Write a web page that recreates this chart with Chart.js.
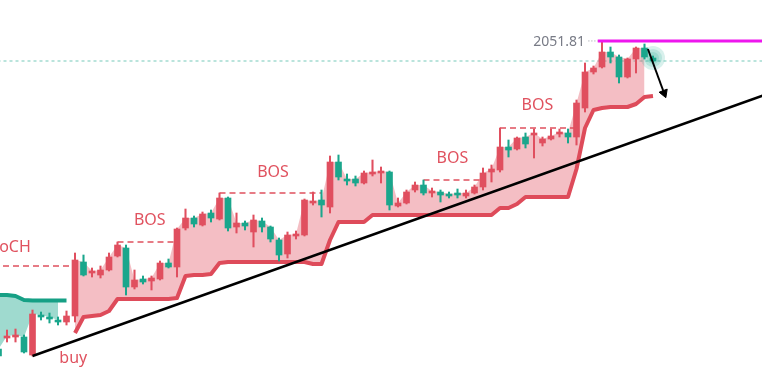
<!DOCTYPE html>
<html>
<head>
<meta charset="utf-8">
<script src="https://cdn.jsdelivr.net/npm/chart.js@4.4.1/dist/chart.umd.min.js"></script>
<style>
  html, body { margin: 0; padding: 0; background: #fff; }
  #wrap { width: 762px; height: 380px; }
</style>
</head>
<body>
<div id="wrap"><canvas id="chart" width="762" height="380"></canvas></div>
<script>
// candles, index of first one (partly off the left edge)
var firstBar = -1;
var opens = [
  1990.2, 1992.4, 1992.6, 1992.6, 1989.0, 1997.0, 1996.6, 1996.0, 1995.6, 1996.8,
  2007.6, 2005.4, 2005.0, 2006.0, 2008.8, 2010.4, 2002.6, 2004.2, 2003.8, 2004.2,
  2007.4, 2006.6, 2014.4, 2016.4, 2015.0, 2017.4, 2016.2, 2020.4, 2014.6, 2015.4,
  2013.6, 2015.8, 2014.6, 2012.0, 2009.2, 2012.8, 2013.0, 2019.4, 2020.0, 2018.6,
  2027.6, 2024.2, 2024.2, 2023.4, 2025.2, 2025.4, 2025.6, 2018.8, 2019.4, 2022.0,
  2023.0, 2021.4, 2021.6, 2021.2, 2021.4, 2020.8, 2021.4, 2022.6, 2025.6, 2026.0,
  2030.6, 2030.2, 2032.6, 2033.0, 2031.4, 2032.2, 2033.2, 2033.4, 2032.6, 2038.4,
  2045.6, 2046.6, 2049.6, 2048.6, 2044.6, 2048.2, 2050.4, 2048.4
];
var highs = [
  1990.6, 1994.0, 1994.2, 1993.0, 1998.0, 1997.6, 1997.4, 1996.6, 1997.8, 2009.4,
  2009.0, 2006.4, 2006.8, 2009.4, 2011.6, 2011.0, 2006.0, 2004.8, 2004.8, 2007.8,
  2008.2, 2014.4, 2018.2, 2016.8, 2017.6, 2018.0, 2021.4, 2020.6, 2017.4, 2015.8,
  2017.0, 2016.4, 2014.8, 2012.4, 2013.6, 2013.8, 2020.2, 2021.6, 2022.0, 2028.8,
  2029.0, 2025.2, 2024.8, 2025.8, 2028.0, 2026.6, 2025.8, 2020.4, 2022.0, 2023.6,
  2024.0, 2022.4, 2022.0, 2021.6, 2022.2, 2022.0, 2023.0, 2026.4, 2027.0, 2034.4,
  2032.0, 2032.6, 2033.4, 2034.2, 2032.6, 2034.2, 2034.2, 2034.2, 2040.0, 2047.4,
  2046.8, 2051.81, 2050.6, 2049.0, 2048.4, 2050.6, 2051.2, 2048.8
];
var lows = [
  1988.4, 1991.6, 1991.6, 1989.4, 1988.8, 1996.0, 1995.4, 1995.0, 1995.0, 1995.6,
  2004.8, 2004.6, 2004.4, 2005.8, 2008.6, 2001.0, 2002.2, 2003.2, 2002.0, 2004.0,
  2006.4, 2004.6, 2014.0, 2014.6, 2014.8, 2015.6, 2016.0, 2013.8, 2013.4, 2014.0,
  2010.6, 2013.6, 2011.6, 2007.8, 2008.4, 2012.2, 2012.8, 2019.0, 2016.6, 2017.4,
  2024.0, 2023.0, 2022.8, 2023.2, 2024.8, 2023.4, 2018.0, 2018.6, 2019.2, 2021.6,
  2021.0, 2020.6, 2019.6, 2020.4, 2020.4, 2020.4, 2021.2, 2022.0, 2023.6, 2025.6,
  2028.6, 2030.0, 2030.4, 2028.4, 2030.8, 2032.0, 2032.6, 2031.4, 2031.0, 2037.6,
  2045.2, 2046.4, 2047.4, 2043.4, 2044.4, 2045.4, 2048.2, 2047.6
];
var closes = [
  1988.8, 1992.8, 1993.0, 1989.6, 1997.2, 1996.6, 1996.2, 1995.6, 1996.8, 2008.0,
  2005.0, 2005.8, 2006.0, 2008.6, 2011.0, 2002.6, 2004.0, 2003.6, 2004.4, 2007.4,
  2006.6, 2014.2, 2016.4, 2015.2, 2017.2, 2016.4, 2020.4, 2014.4, 2015.4, 2014.8,
  2016.0, 2014.6, 2012.2, 2009.0, 2013.0, 2013.2, 2020.0, 2019.8, 2019.0, 2027.6,
  2024.6, 2023.8, 2023.4, 2025.4, 2025.6, 2025.8, 2019.0, 2019.4, 2021.6, 2023.0,
  2021.4, 2021.8, 2021.0, 2020.8, 2021.0, 2021.4, 2022.6, 2025.4, 2026.2, 2030.6,
  2030.0, 2032.4, 2031.2, 2033.4, 2032.2, 2032.8, 2033.6, 2032.6, 2039.4, 2045.6,
  2046.4, 2049.6, 2048.6, 2044.6, 2048.2, 2050.4, 2048.6, 2047.8
];

// trailing stop (long side), starts at bar 8
var redStopFrom = 8;
var redStop = [
  1993.4, 1996.6, 1996.8, 1997.0, 1997.8, 2000.2, 2000.2, 2000.2, 2000.2, 2000.2,
  2000.2, 2000.2, 2000.4, 2004.8, 2005.0, 2005.0, 2005.2, 2007.4, 2007.6, 2007.6,
  2007.6, 2007.6, 2007.6, 2007.6, 2007.6, 2007.6, 2007.6, 2007.6, 2007.2, 2007.2,
  2012.0, 2015.6, 2015.6, 2015.6, 2015.6,
  2017.0, 2017.0, 2017.0, 2017.0, 2017.0, 2017.0, 2017.0, 2017.0, 2017.0, 2017.0,
  2017.0, 2017.0, 2017.0, 2017.0, 2017.0,
  2018.4, 2018.4, 2019.2,
  2020.6, 2020.6, 2020.6, 2020.6, 2020.6, 2020.6,
  2026.2, 2034.4, 2038.0, 2038.4, 2038.6, 2038.6, 2038.6, 2039.2, 2040.6, 2040.8
];
var pinkFillTo = 75;

// trailing stop (short side) at the left edge
var tealStopFrom = -1;
var tealStop = [2001.0, 2001.0, 2000.8, 2000.0, 1999.9, 1999.9, 1999.9, 1999.9, 1999.9];
var tealFillTo = 6;

// trend line through two lows
var trendA = [3, 1988.8];
var trendB = [68, 2028.2];

// broken levels: [from bar, to bar, price]
var levels = [
  [-4, 8, 2006.8],
  [13, 20, 2011.6],
  [25, 37, 2021.4],
  [49, 56, 2024.0],
  [58, 67, 2034.4]
];

var labels = [
  { text: 'CHoCH', x: 2.8, y: 2010.6, align: 'right' },
  { text: 'BOS', x: 16.8, y: 2016.0 },
  { text: 'BOS', x: 31.3, y: 2025.6 },
  { text: 'BOS', x: 52.4, y: 2028.4 },
  { text: 'BOS', x: 62.4, y: 2039.0 },
  { text: 'buy', x: 7.8, y: 1988.4 },
  { text: '2051.81', x: 68.0, y: 2051.6, align: 'right', font: '14px "Noto Sans"', color: '#787b86' }
];

var highPrice = 2051.81;
var highFrom = 69.5;
var lastPrice = 2047.8;
var arrowA = [75.4, 2050.2];
var arrowB = [77.3, 2041.4];

var upColor = '#e04f5f';
var downColor = '#1aa68c';
var labelRed = '#e0525f';

var xMin = -7 / 8.5;
var xMax = xMin + 762 / 8.5;

var bodies = [], wicks = [], barColors = [];
for (var i = 0; i < opens.length; i++) {
  var x = firstBar + i;
  bodies.push({ x: x, y: [opens[i], closes[i]] });
  wicks.push({ x: x, y: [lows[i], highs[i]] });
  barColors.push(closes[i] >= opens[i] ? upColor : downColor);
}
function bodyTop(x) {
  var k = x - firstBar;
  return Math.max(opens[k], closes[k]);
}

var redLine = [], pinkBase = [], pinkTop = [];
redStop.forEach(function(v, k) {
  var x = redStopFrom + k;
  redLine.push({ x: x, y: v });
  if (x <= pinkFillTo) {
    pinkBase.push({ x: x, y: v });
    pinkTop.push({ x: x, y: bodyTop(x) });
  }
});
var tealLine = [], tealBase = [], tealBottom = [];
tealStop.forEach(function(v, k) {
  var x = tealStopFrom + k;
  tealLine.push({ x: x, y: v });
  if (x <= tealFillTo) {
    tealBase.push({ x: x, y: v });
    tealBottom.push({ x: x, y: bodyTop(x) });
  }
});

var slope = (trendB[1] - trendA[1]) / (trendB[0] - trendA[0]);
var trendLine = [
  { x: trendA[0], y: trendA[1] },
  { x: xMax + 1, y: trendA[1] + slope * (xMax + 1 - trendA[0]) }
];

function hidden(data, extra) {
  var d = {
    type: 'line', data: data, borderWidth: 0, borderColor: 'rgba(0,0,0,0)',
    pointRadius: 0, fill: false, order: 15
  };
  for (var k in extra) d[k] = extra[k];
  return d;
}

var datasets = [];
datasets.push({
  type: 'line', data: [{ x: xMin - 1, y: lastPrice }, { x: xMax + 1, y: lastPrice }],
  borderColor: 'rgba(26,166,140,0.6)', borderWidth: 1, borderDash: [3, 3],
  pointRadius: 0, order: 20
});
var pinkIdx = datasets.length;
datasets.push(hidden(pinkBase, { fill: { target: pinkIdx + 1 }, backgroundColor: 'rgba(224,79,95,0.37)' }));
datasets.push(hidden(pinkTop));
var tealIdx = datasets.length;
datasets.push(hidden(tealBase, { fill: { target: tealIdx + 1 }, backgroundColor: 'rgba(26,166,140,0.42)' }));
datasets.push(hidden(tealBottom));
// glow round the live candle
datasets.push({
  type: 'line', showLine: false, order: 14,
  data: [{ x: 76, y: 2048.4 }, { x: 76, y: 2048.4 }, { x: 76, y: 2048.4 }],
  pointRadius: [12, 9, 6], pointBorderWidth: 0,
  pointBackgroundColor: 'rgba(26,166,140,0.17)'
});
datasets.push({
  type: 'line', data: redLine, borderColor: '#de4b5a', borderWidth: 4,
  borderJoinStyle: 'round', pointRadius: 0, order: 12
});
datasets.push({
  type: 'line', data: tealLine, borderColor: '#16a085', borderWidth: 4,
  borderJoinStyle: 'round', pointRadius: 0, order: 12
});
levels.forEach(function(l) {
  datasets.push({
    type: 'line', data: [{ x: l[0], y: l[2] }, { x: l[1], y: l[2] }],
    borderColor: '#e0505e', borderWidth: 1.3, borderDash: [6, 4],
    pointRadius: 0, order: 11
  });
});
datasets.push({
  type: 'bar', data: wicks, backgroundColor: barColors, barThickness: 1.4,
  grouped: false, order: 6
});
datasets.push({
  type: 'bar', data: bodies, backgroundColor: barColors, barThickness: 6,
  grouped: false, order: 5
});
datasets.push({
  type: 'line', data: trendLine, borderColor: '#000', borderWidth: 2.5,
  pointRadius: 0, order: 3
});
datasets.push({
  type: 'line', data: [{ x: 68.4, y: highPrice }, { x: highFrom, y: highPrice }],
  borderColor: '#9598a1', borderWidth: 1, borderDash: [1, 2], pointRadius: 0, order: 2
});
datasets.push({
  type: 'line', data: [{ x: highFrom, y: highPrice }, { x: xMax + 1, y: highPrice }],
  borderColor: '#ee16ee', borderWidth: 3, pointRadius: 0, order: 2
});
datasets.push({
  type: 'line', data: [{ x: arrowA[0], y: arrowA[1] }, { x: arrowB[0], y: arrowB[1] }],
  borderColor: '#000', borderWidth: 2, order: 1,
  pointRadius: [0, 5], pointStyle: 'triangle', pointRotation: 159,
  pointBackgroundColor: '#000', pointBorderColor: '#000', pointBorderWidth: 1
});

var textPlugin = {
  id: 'texts',
  afterDatasetsDraw: function(chart) {
    var ctx = chart.ctx, xs = chart.scales.x, ys = chart.scales.y;
    ctx.save();
    ctx.textBaseline = 'middle';
    labels.forEach(function(l) {
      ctx.font = l.font || '16px "Noto Sans"';
      ctx.fillStyle = l.color || labelRed;
      ctx.textAlign = l.align || 'center';
      ctx.fillText(l.text, xs.getPixelForValue(l.x), ys.getPixelForValue(l.y));
    });
    ctx.restore();
  }
};

new Chart(document.getElementById('chart').getContext('2d'), {
  type: 'bar',
  data: { datasets: datasets },
  options: {
    responsive: false,
    animation: false,
    layout: { padding: 0, autoPadding: false },
    plugins: { legend: { display: false }, tooltip: { enabled: false } },
    elements: { line: { tension: 0 }, point: { radius: 0 } },
    scales: {
      x: { type: 'linear', min: xMin, max: xMax, offset: false, display: false },
      y: { type: 'linear', min: 1984, max: 2060, display: false }
    }
  },
  plugins: [textPlugin]
});
</script>
</body>
</html>
